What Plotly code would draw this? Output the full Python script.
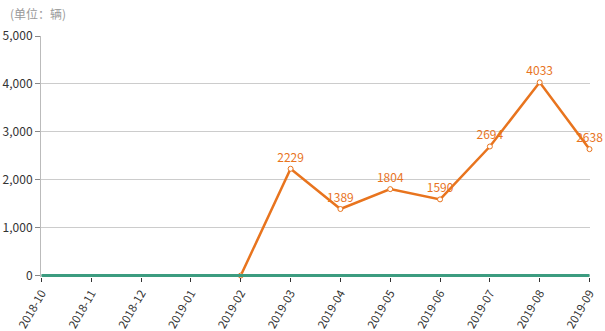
import plotly.graph_objects as go

months = ["2018-10", "2018-11", "2018-12", "2019-01", "2019-02", "2019-03",
          "2019-04", "2019-05", "2019-06", "2019-07", "2019-08", "2019-09"]
sales = [None, None, None, None, 0, 2229, 1389, 1804, 1590, 2694, 4033, 2638]
baseline = [0] * 12
labels = ["" if (v is None or v == 0) else str(v) for v in sales]
yticks = [0, 1000, 2000, 3000, 4000, 5000]

fig = go.Figure()
fig.add_trace(go.Scatter(
    x=months, y=sales, mode="lines+markers+text", text=labels,
    textposition="top center", textfont=dict(color="#e8741e", size=12, family="Noto Sans CJK SC"),
    line=dict(color="#e8741e", width=2.5),
    marker=dict(size=5, color="white", line=dict(color="#e8741e", width=1)),
    cliponaxis=False, connectgaps=False, showlegend=False, hoverinfo="x+y"))
fig.add_trace(go.Scatter(
    x=months, y=baseline, mode="lines",
    line=dict(color="#3c9c80", width=3), cliponaxis=False,
    showlegend=False, hoverinfo="x+y"))

fig.update_layout(
    width=605, height=331, margin=dict(l=41, r=15, t=36, b=54),
    paper_bgcolor="white", plot_bgcolor="white",
    font=dict(family="Noto Sans CJK SC", color="#333", size=12),
    annotations=[dict(text="(单位：辆)", xref="paper", yref="paper", x=-0.06, y=1.05,
                      xanchor="left", yanchor="bottom", showarrow=False,
                      font=dict(color="#999", size=12))],
)
fig.update_xaxes(type="category", range=[-0.01, 11.01], tickangle=-60, automargin=False,
                 ticks="outside", ticklen=4, tickcolor="#333", showgrid=False,
                 showline=False, tickfont=dict(size=11.5, color="#333"))
fig.update_yaxes(range=[-30, 5000], tickvals=yticks, tickformat=",", automargin=False,
                 ticks="outside", ticklen=5, tickcolor="#888", showgrid=True,
                 gridcolor="#cccccc", showline=True, linecolor="#bbb", linewidth=1,
                 zeroline=False, tickfont=dict(size=12, color="#333"))
fig.write_html("out.html")
